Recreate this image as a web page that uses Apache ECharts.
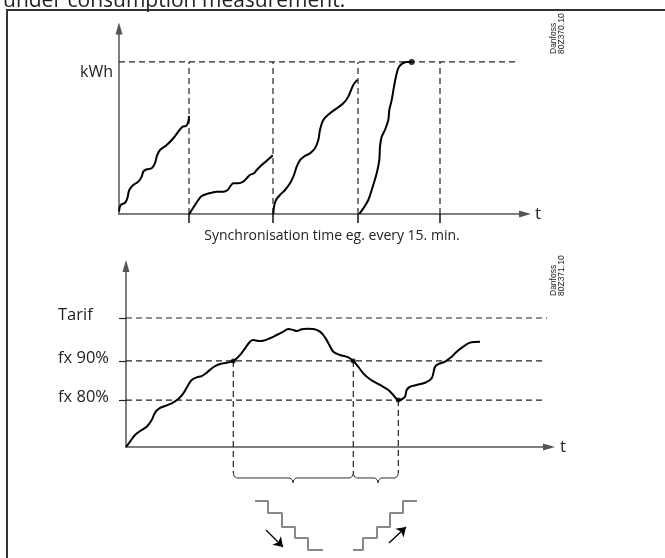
<!DOCTYPE html>
<html><head><meta charset="utf-8">
<script src="https://cdn.jsdelivr.net/npm/echarts@6/dist/echarts.min.js"></script>
<style>html,body{margin:0;padding:0;background:#fff}#c{width:665px;height:558px}</style>
</head><body><div id="c"></div>
<script>
// ---------- TOP DIAGRAM : energy in each synchronisation period (% of kWh limit) ----------
const syncTimes = [70, 154, 239, 321];
const kwhLimit = 100;
const kwhLineEnd = 400;
const period1 = [[0,1.5],[1.7,5.9],[6,7.4],[8.3,10.3],[10.3,15.8],[14.3,19.1],[19.3,21.3],[22.7,24.6],[24.3,27.9],[27.7,29.4],[32.7,30.1],[36,33.4],[37.7,37.8],[41,42.1],[47.7,45.4],[54.3,49.8],[59.3,54.2],[63.7,57.5],[67,57.9],[69.3,60.7],[70,64.5]];
const period2 = [[70.3,0],[72.7,2.6],[76,5.9],[79.3,9.2],[82.7,11.8],[87.7,13.2],[92.7,14.0],[97.7,14.7],[104.3,14.7],[108.7,15.8],[111,18.0],[114.3,20.2],[119.3,20.2],[124.3,21.3],[127.7,23.5],[131,25.7],[135,26.8],[137.7,28.9],[142.7,32.2],[147.7,35.0],[151.7,37.3],[153.7,38.8]];
const period3 = [[154.3,0],[155,4.8],[157,9.2],[161,12.5],[166,15.8],[171,20.2],[174.3,24.5],[177.7,31.1],[181,35.5],[186,38.2],[191,39.9],[196,43.2],[199.3,48.7],[201,55.3],[204.3,61.8],[211,66.3],[217.7,69.5],[224.3,72.8],[229.3,77.2],[234.3,84.9],[238.3,88.2]];
const period4 = [[240.3,0],[244.3,3.7],[249.3,9.2],[253.7,18.0],[257.7,26.8],[260.3,35.5],[261,44.3],[262.7,50.8],[266,55.3],[269.3,61.8],[270.3,68.4],[272.7,75.0],[275,83.8],[277,90.4],[279.3,95.9],[282.7,98.7],[287.7,100],[292.7,100]];
const limitReached = [[292.7,100]];

// ---------- BOTTOM DIAGRAM : load vs. tariff levels ----------
const levelNames = ['Tarif', 'fx 90%', 'fx 80%'];
const levelValues = [100, 66.7, 36.4];
const levelLineEnds = [421, 417, 417];
const loadCurve = [[0,0],[4,4.1],[9,9.3],[14,12.4],[20.7,15.7],[25.7,20.9],[29,26.6],[33.3,30.0],[39,31.8],[45.7,33.9],[52.3,37.2],[57.3,41.6],[62.3,48.1],[65.7,51.9],[70.7,54.0],[75.7,55.0],[80.7,57.6],[87.3,61.8],[94,64.3],[100.7,65.3],[107.3,66.7],[114,71.3],[119,76.5],[124,81.6],[127.3,82.9],[132.3,82.2],[137.3,82.4],[144,84.3],[150.7,86.8],[157.3,89.4],[162.3,91.5],[167.3,90.7],[170.7,89.9],[175.7,91.2],[180.7,91.7],[187.3,91.5],[194,89.4],[199,85.0],[203.3,79.1],[207.3,73.9],[214,71.3],[222.3,69.5],[227.3,66.7],[232.3,62.2],[237.3,57.1],[244,52.5],[254,48.1],[262.3,44.2],[267.3,40.3],[272.3,36.4],[275.7,37.0],[279,39.0],[280.7,44.2],[284,46.7],[290.7,48.1],[299,49.8],[305.7,53.3],[309,62.2],[312.3,64.3],[319,66.1],[325.7,70.0],[330.7,73.9],[337.3,77.8],[344,80.9],[354,81.6]];
const crossings = [[107.3,66.7],[227.3,66.7],[272.3,36.4]];
const dropLineEnd = -20.2;
const braceLong = [[107.3,-20.2],[108,-22.6],[110.5,-24],[164,-24],[166.3,-25.6],[167,-27.9],[167.7,-25.6],[170,-24],[224,-24],[226.6,-22.6],[227.3,-20.2]];
const braceShort = [[227.3,-20.2],[228,-22.6],[230.5,-24],[249,-24],[251.3,-25.6],[252,-27.9],[252.7,-25.6],[255,-24],[269,-24],[271.6,-22.6],[272.3,-20.2]];
const stairsDown = [[129,-41.9],[142,-41.9],[142,-51.2],[156,-51.2],[156,-62],[169,-62],[169,-70.5],[182,-70.5],[182,-79.8],[197,-79.8]];
const stairsUp = [[227,-79.8],[237,-79.8],[237,-70.5],[251,-70.5],[251,-62],[264,-62],[264,-51.2],[277,-51.2],[277,-41.9],[291,-41.9]];
const arrowDown = [[140,-64.3],[157,-77.5]];
const arrowUp = [[263,-74.4],[280,-62]];

const FONT = '"Open Sans", "Noto Sans", sans-serif';
const dash = {type:[6,4], color:'#222', width:1.2};
const axisCol = '#555';

function curve(data, xi) {
  return {type:'line', xAxisIndex:xi, yAxisIndex:xi, data, smooth:0.35, symbol:'none',
          lineStyle:{color:'#000', width:2}, clip:false, silent:true, z:5};
}
function seg(data, xi, style, z) {
  return {type:'line', xAxisIndex:xi, yAxisIndex:xi, data, symbol:'none', lineStyle:style, clip:false, silent:true, z:z||3};
}

const series = [];
// top
series.push(seg([[0,kwhLimit],[kwhLineEnd,kwhLimit]], 0, dash));
syncTimes.forEach(t => series.push(seg([[t,0],[t,kwhLimit]], 0, dash)));
[period1, period2, period3, period4].forEach(p => series.push(curve(p, 0)));
series.push({type:'scatter', xAxisIndex:0, yAxisIndex:0, data:limitReached, symbolSize:6, itemStyle:{color:'#000'}, z:6, silent:true});
// bottom
levelValues.forEach((v,i) => series.push(seg([[0,v],[levelLineEnds[i],v]], 1, dash)));
crossings.forEach(c => series.push(seg([[c[0],c[1]],[c[0],dropLineEnd]], 1, dash)));
series.push(curve(loadCurve, 1));
series.push({type:'scatter', xAxisIndex:1, yAxisIndex:1, data:crossings, symbolSize:5, itemStyle:{color:'#000'}, z:6, silent:true});
series.push(seg(braceLong, 1, {color:'#333', width:1}));
series.push(seg(braceShort, 1, {color:'#333', width:1}));
series.push(seg(stairsDown, 1, {color:'#888', width:2}));
series.push(seg(stairsUp, 1, {color:'#888', width:2}));
series.push({type:'lines', coordinateSystem:'cartesian2d', xAxisIndex:1, yAxisIndex:1, clip:false, silent:true,
  symbol:['none','arrow'], symbolSize:9, lineStyle:{color:'#000', width:1.3, opacity:1},
  data:[{coords:arrowDown},{coords:arrowUp}]});

const axisLine = {show:true, onZero:true, symbol:['none','triangle'], symbolSize:[7,12], lineStyle:{color:axisCol, width:1.5}};

const option = {
  animation:false,
  backgroundColor:'#fff',
  grid:[
    {left:119, top:28.5, width:406, height:185.5},
    {left:126, top:266, width:423, height:181}
  ],
  xAxis:[
    {type:'value', gridIndex:0, min:0, max:406, axisLine, splitLine:{show:false}, axisLabel:{show:false},
     axisTick:{show:true, customValues:syncTimes, length:9, lineStyle:{color:'#111', width:1.5}},
     name:'t', nameLocation:'end', nameGap:10, nameTextStyle:{fontFamily:FONT, fontSize:17, color:'#222', verticalAlign:'middle'}},
    {type:'value', gridIndex:1, min:0, max:423, axisLine, splitLine:{show:false}, axisLabel:{show:false}, axisTick:{show:false},
     name:'t', nameLocation:'end', nameGap:11, nameTextStyle:{fontFamily:FONT, fontSize:17, color:'#222', verticalAlign:'middle'}}
  ],
  yAxis:[
    {type:'value', gridIndex:0, min:0, max:122, axisLine, splitLine:{show:false}, axisTick:{show:false},
     axisLabel:{show:true, customValues:[kwhLimit], formatter:()=>'kWh', align:'left', verticalAlign:'top', lineHeight:20, margin:39, fontFamily:FONT, fontSize:16, color:'#222'}},
    {type:'value', gridIndex:1, min:0, max:140.3, axisLine, splitLine:{show:false},
     axisTick:{show:true, customValues:levelValues, length:7, lineStyle:{color:'#222', width:1.2}},
     axisLabel:{show:true, customValues:levelValues, formatter:(v)=>levelNames[levelValues.indexOf(v)], align:'left', verticalAlign:'bottom', lineHeight:6, margin:68, fontFamily:FONT, fontSize:16.5, color:'#222'}}
  ],
  graphic:[
    {type:'rect', shape:{x:7, y:10, width:720, height:620}, style:{fill:'none', stroke:'#333', lineWidth:2}, silent:true},
    {type:'text', x:3, y:1, style:{text:'under consumption measurement.', font:'21px ' + FONT, fill:'#222', verticalAlign:'middle'}},
    {type:'text', x:332, y:236, style:{text:'Synchronisation time eg. every 15. min.', font:'14px ' + FONT, fill:'#222', align:'center', verticalAlign:'middle'}},
    {type:'text', x:549, y:54, rotation:Math.PI/2, style:{text:'Danfoss\n80Z370.10', font:'8.5px "Liberation Sans", sans-serif', lineHeight:8.5, fill:'#222', align:'left', verticalAlign:'top'}},
    {type:'text', x:549, y:296, rotation:Math.PI/2, style:{text:'Danfoss\n80Z371.10', font:'8.5px "Liberation Sans", sans-serif', lineHeight:8.5, fill:'#222', align:'left', verticalAlign:'top'}}
  ],
  series
};
const chart = echarts.init(document.getElementById('c'), null, {renderer:'canvas'});
chart.setOption(option);
</script></body></html>
